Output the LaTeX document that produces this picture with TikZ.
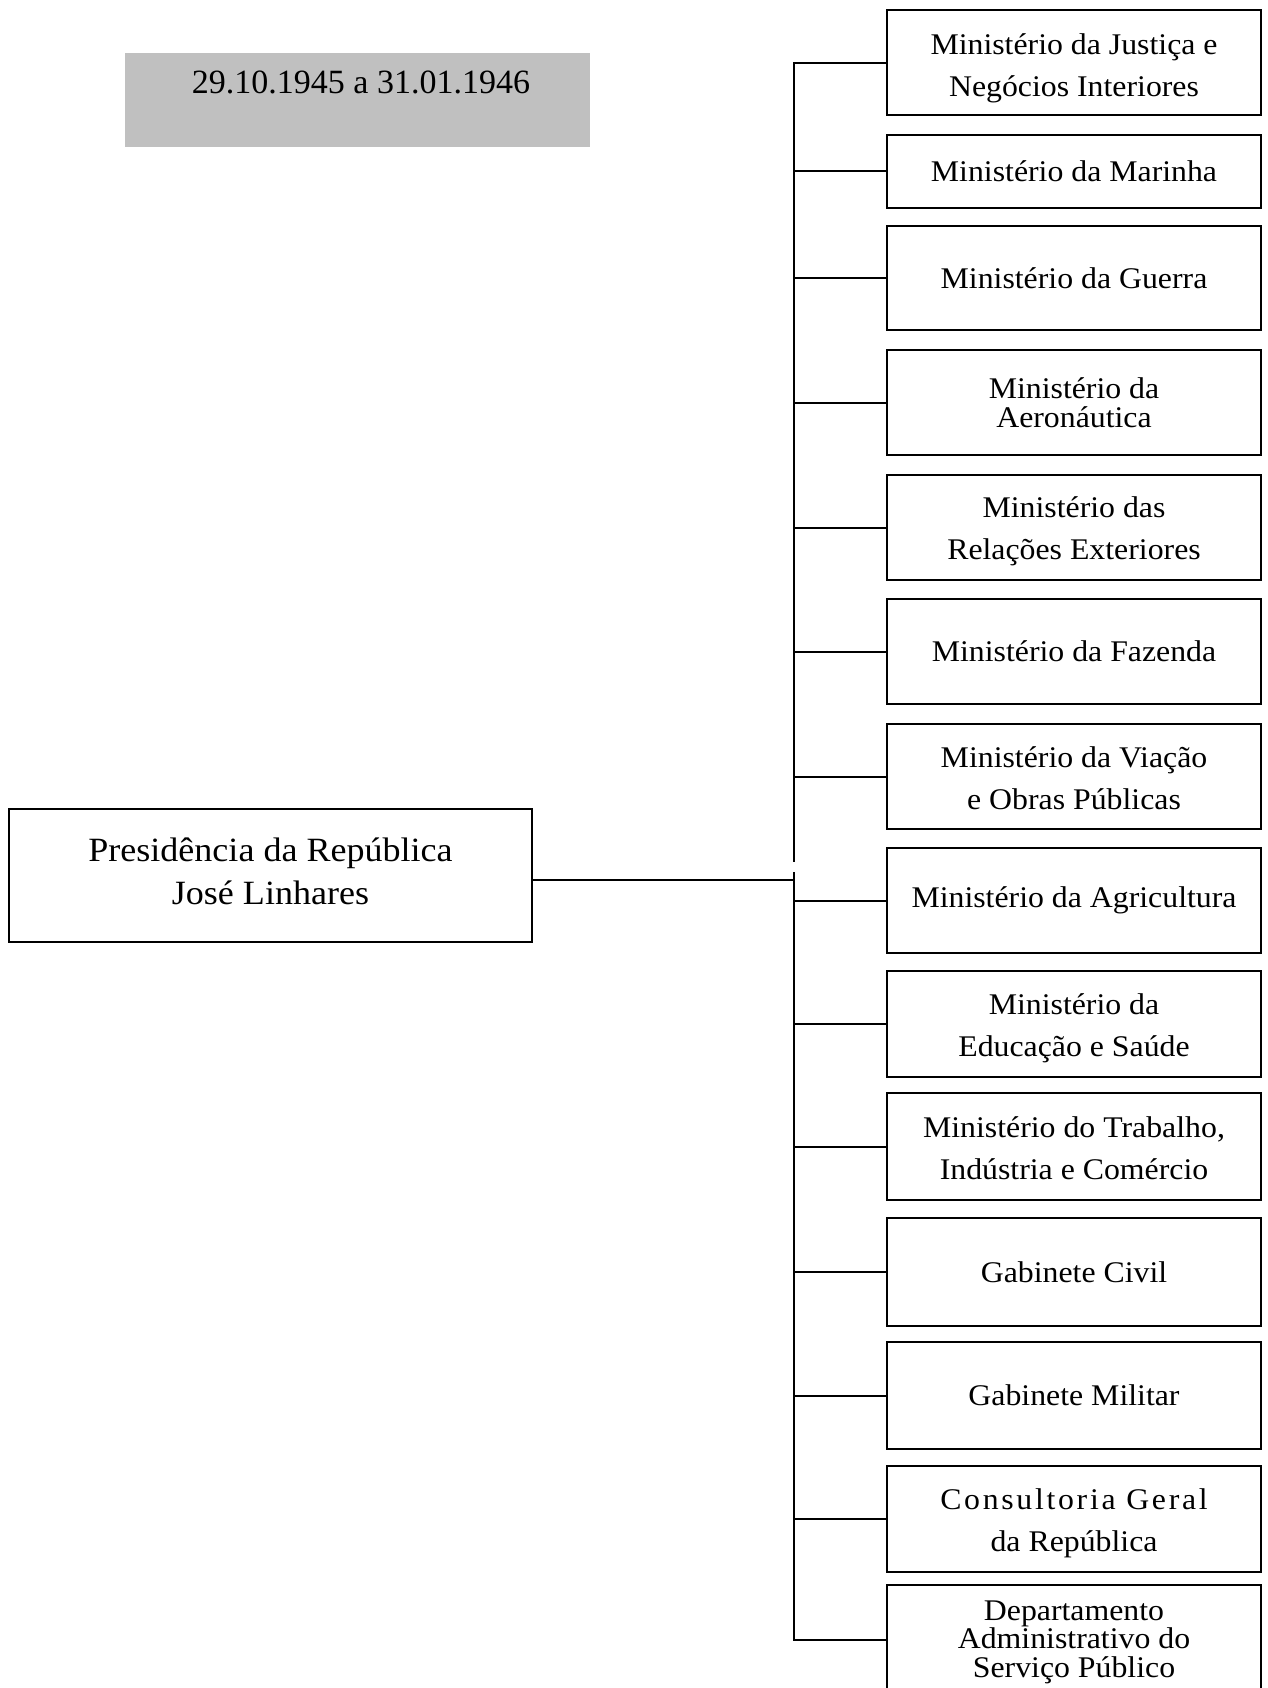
\documentclass[tikz,border=0pt]{standalone}
\usepackage{fontspec}
\setmainfont{Liberation Serif}
\newfontfamily\boxfont[FakeStretch=1.06]{Liberation Serif}
\definecolor{dategray}{RGB}{192,192,192}
\newcommand\tstrut[1]{\rule{0pt}{#1pt}}
\newcommand\bstrut[1]{\rule[-#1pt]{0pt}{#1pt}}
\tikzset{
  mbox/.style={draw, line width=2pt, minimum width=374pt, minimum height=105pt,
    align=center, inner sep=0pt, font=\boxfont\fontsize{30}{42}\selectfont},
  tightbox/.style={mbox, font=\boxfont\fontsize{30}{28.5}\selectfont},
  conn/.style={line width=2pt}
}
\begin{document}
\begin{tikzpicture}[x=1pt, y=-1pt]
\useasboundingbox (0,0) rectangle (1267,1688);
% date
\node[fill=dategray, minimum width=465pt, minimum height=94pt, inner sep=0pt] (datebox) at (357.5,100) {};
\node[anchor=base, inner sep=0pt, font=\fontsize{34}{40}\selectfont] (datetxt) at (361,94) {29.10.1945 a 31.01.1946};
% presidency
\node[draw, line width=2pt, minimum width=523pt, minimum height=133pt, inner sep=0pt, align=center,
  font=\boxfont\fontsize{34}{43}\selectfont] (pres) at (270.5,875.5) {Presidência da República\\José Linhares\bstrut{8}};
% boxes
\node[mbox] (b1) at (1074,63) {\tstrut{31}Ministério da Justiça e\\Negócios Interiores};
\node[mbox, minimum height=73pt] (b2) at (1074,171.5) {Ministério da Marinha};
\node[mbox, minimum height=104pt] (b3) at (1074,278) {Ministério da Guerra};
\node[tightbox] (b4) at (1074,402.5) {Ministério da\\Aeronáutica};
\node[mbox] (b5) at (1074,527.5) {\tstrut{29}Ministério das\\Relações Exteriores};
\node[mbox] (b6) at (1074,651.5) {Ministério da Fazenda};
\node[mbox] (b7) at (1074,776.5) {\tstrut{25}Ministério da Viação\\e Obras Públicas};
\node[mbox] (b8) at (1074,900.5) {Ministério da Agricultura};
\node[mbox, minimum height=106pt] (b9) at (1074,1024) {\tstrut{29.5}Ministério da\\Educação e Saúde};
\node[mbox, minimum height=107pt] (b10) at (1074,1146.5) {\tstrut{25}Ministério do Trabalho,\\Indústria e Comércio};
\node[mbox, minimum height=108pt] (b11) at (1074,1272) {Gabinete Civil};
\node[mbox, minimum height=107pt] (b12) at (1074,1395.5) {Gabinete Militar};
\node[mbox, minimum height=106pt] (b13) at (1074,1519) {{\tstrut{29}\addfontfeature{LetterSpace=9}Consultoria Geral}\\da República};
\node[tightbox, minimum height=110pt] (b14) at (1074,1640) {\tstrut{24}Departamento\\Administrativo do\\Serviço Público};
% trunk
\coordinate (tx) at (794,0);
\coordinate (gapA) at (794,862);
\coordinate (gapB) at (794,872);
\coordinate (tj) at (794,880);
\draw[conn] (b1.west) -- (b1.west -| tx) -- (gapA);
\draw[conn] (gapB) -- (b14.west -| tx) -- (b14.west);
\foreach \b in {b2,b3,b4,b5,b6,b7,b8,b9,b10,b11,b12,b13}
  \draw[conn] (\b.west -| tx) -- (\b.west);
\draw[conn] (pres.east |- tj) -- (tj);
\end{tikzpicture}
\end{document}
